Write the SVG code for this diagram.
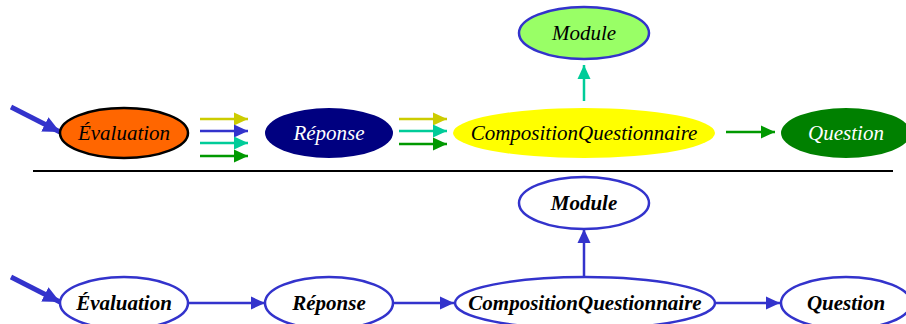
<svg xmlns="http://www.w3.org/2000/svg" width="906" height="324" viewBox="0 0 906 324">
<style>
.t{font-family:'Liberation Serif','Times New Roman',Times,serif;font-style:italic;font-size:21px;text-anchor:middle}
.b{font-weight:bold}
.w{fill:#ffffff}
.k{fill:#000000}
.ln{fill:none;stroke-width:2.5}
.bl{stroke:#3333cc}
.yl{stroke:#cccc00}
.tl{stroke:#00cc99}
.gr{stroke:#009900}
.on{fill:#ffffff;stroke:#3333cc;stroke-width:2.5}
</style>
<defs>
<marker id="mb" markerUnits="userSpaceOnUse" markerWidth="15" markerHeight="15" refX="14" refY="7.5" orient="auto"><path d="M0,1 L14,7.5 L0,14 Z" fill="#3333cc"/></marker>
<marker id="my" markerUnits="userSpaceOnUse" markerWidth="15" markerHeight="15" refX="14" refY="7.5" orient="auto"><path d="M0,1 L14,7.5 L0,14 Z" fill="#cccc00"/></marker>
<marker id="mt" markerUnits="userSpaceOnUse" markerWidth="15" markerHeight="15" refX="14" refY="7.5" orient="auto"><path d="M0,1 L14,7.5 L0,14 Z" fill="#00cc99"/></marker>
<marker id="mg" markerUnits="userSpaceOnUse" markerWidth="15" markerHeight="15" refX="14" refY="7.5" orient="auto"><path d="M0,1 L14,7.5 L0,14 Z" fill="#009900"/></marker>
<marker id="mB" markerUnits="userSpaceOnUse" markerWidth="20" markerHeight="20" refX="17" refY="10" orient="auto"><path d="M0,2 L17,10 L0,18 Z" fill="#3333cc"/></marker>
</defs>

<g id="connectors">
<line x1="11" y1="107" x2="60" y2="132" stroke="#3333cc" stroke-width="5" marker-end="url(#mB)"/>
<line class="ln yl" x1="200" y1="119" x2="248" y2="119" marker-end="url(#my)"/>
<line class="ln bl" x1="200" y1="131" x2="248" y2="131" marker-end="url(#mb)"/>
<line class="ln tl" x1="200" y1="143" x2="248" y2="143" marker-end="url(#mt)"/>
<line class="ln gr" x1="200" y1="156" x2="248" y2="156" marker-end="url(#mg)"/>
<line class="ln yl" x1="399" y1="119" x2="447" y2="119" marker-end="url(#my)"/>
<line class="ln tl" x1="399" y1="131" x2="447" y2="131" marker-end="url(#mt)"/>
<line class="ln gr" x1="399" y1="144" x2="447" y2="144" marker-end="url(#mg)"/>
<line class="ln tl" x1="584" y1="101" x2="584" y2="65" marker-end="url(#mt)"/>
<line class="ln gr" x1="726" y1="132" x2="775" y2="132" marker-end="url(#mg)"/>
<line x1="33" y1="171" x2="893" y2="171" stroke="#000000" stroke-width="2"/>
<line x1="11" y1="277" x2="60" y2="302" stroke="#3333cc" stroke-width="5" marker-end="url(#mB)"/>
<line class="ln bl" x1="189" y1="303" x2="265" y2="303" marker-end="url(#mb)"/>
<line class="ln bl" x1="393" y1="303" x2="454" y2="303" marker-end="url(#mb)"/>
<line class="ln bl" x1="584" y1="277" x2="584" y2="229" marker-end="url(#mb)"/>
<line class="ln bl" x1="715" y1="303" x2="780" y2="303" marker-end="url(#mb)"/>
</g>

<g id="top-evaluation"><ellipse cx="124" cy="133" rx="64" ry="25" fill="#ff6600" stroke="#000000" stroke-width="2.5"/><text class="t k" x="124" y="140">Évaluation</text></g>
<g id="top-reponse"><ellipse cx="329" cy="133" rx="64" ry="25" fill="#000080"/><text class="t w" x="329" y="140">Réponse</text></g>
<g id="top-composition"><ellipse cx="584" cy="133" rx="131" ry="25" fill="#ffff00"/><text class="t k" x="584" y="140">CompositionQuestionnaire</text></g>
<g id="top-module"><ellipse cx="584" cy="33" rx="65" ry="26" fill="#99ff66" stroke="#3333cc" stroke-width="2.5"/><text class="t k" x="584" y="40">Module</text></g>
<g id="top-question"><ellipse cx="846" cy="133" rx="65" ry="25" fill="#008000"/><text class="t w" x="846" y="140">Question</text></g>

<g id="bot-evaluation"><ellipse class="on" cx="124" cy="303" rx="64" ry="26"/><text class="t b k" x="124" y="310">Évaluation</text></g>
<g id="bot-reponse"><ellipse class="on" cx="329" cy="303" rx="64" ry="26"/><text class="t b k" x="329" y="310">Réponse</text></g>
<g id="bot-composition"><ellipse class="on" cx="585" cy="303" rx="130" ry="26"/><text class="t b k" x="585" y="310">CompositionQuestionnaire</text></g>
<g id="bot-module"><ellipse class="on" cx="584" cy="203" rx="65" ry="26"/><text class="t b k" x="584" y="210">Module</text></g>
<g id="bot-question"><ellipse class="on" cx="846" cy="303" rx="65" ry="26"/><text class="t b k" x="846" y="310">Question</text></g>
</svg>
